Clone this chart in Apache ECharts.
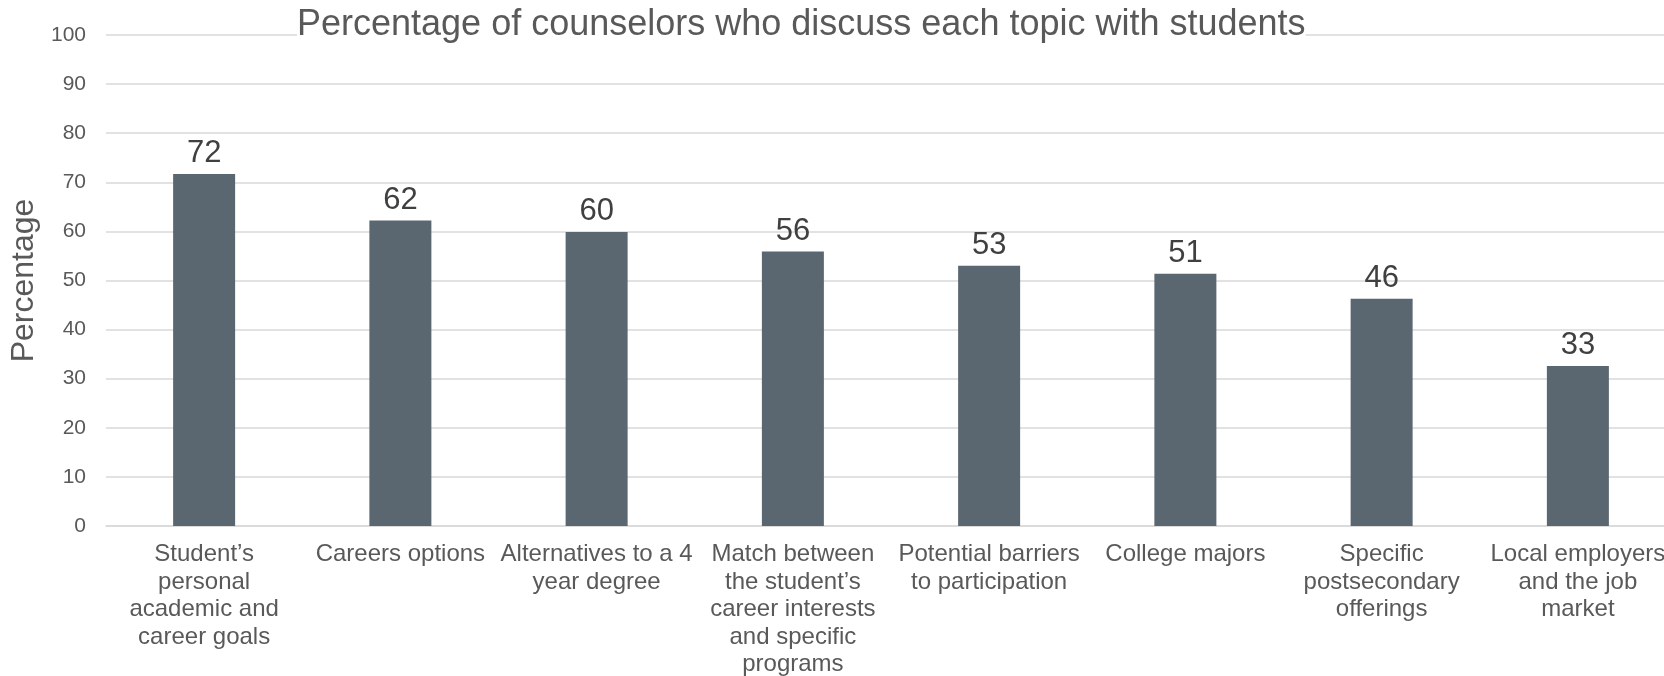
<!DOCTYPE html>
<html>
<head>
<meta charset="utf-8">
<script src="https://cdn.jsdelivr.net/npm/echarts@6/dist/echarts.min.js"></script>
<style>
  html, body { margin: 0; padding: 0; background: #fff; }
  #main { width: 1664px; height: 676px; }
</style>
</head>
<body>
<div id="main"></div>
<script>
// chart data
var categories = [
  'Student\u2019s\npersonal\nacademic and\ncareer goals',
  'Careers options',
  'Alternatives to a 4\nyear degree',
  'Match between\nthe student\u2019s\ncareer interests\nand specific\nprograms',
  'Potential barriers\nto participation',
  'College majors',
  'Specific\npostsecondary\nofferings',
  'Local employers\nand the job\nmarket'
];
var percentages = [71.7, 62.2, 59.9, 55.9, 53, 51.4, 46.3, 32.6];
var yTicks = [0, 10, 20, 30, 40, 50, 60, 70, 80, 90, 100];

var chart = echarts.init(document.getElementById('main'));
var font = 'Liberation Sans, Arial, sans-serif';

var option = {
  animation: false,
  title: {
    text: 'Percentage of counselors who discuss each topic with students',
    left: 297,
    top: 7,
    padding: 0,
    backgroundColor: '#fff',
    textStyle: { fontFamily: font, fontSize: 36, fontWeight: 'normal', color: '#595959' }
  },
  grid: { left: 106, right: -12, top: 35, bottom: 150, containLabel: false, outerBoundsMode: 'none' },
  xAxis: {
    type: 'category',
    data: categories,
    axisLine: { lineStyle: { color: '#d9d9d9', width: 1.5 } },
    axisTick: { show: false },
    axisLabel: {
      interval: 0,
      margin: 15,
      fontFamily: font,
      fontSize: 24,
      lineHeight: 27.5,
      color: '#595959'
    }
  },
  yAxis: {
    type: 'value',
    min: yTicks[0],
    max: yTicks[yTicks.length - 1],
    interval: 10,
    name: 'Percentage',
    nameLocation: 'middle',
    nameRotate: 90,
    nameGap: 51,
    nameTextStyle: { fontFamily: font, fontSize: 32, color: '#595959' },
    axisLine: { show: false },
    axisTick: { show: false },
    axisLabel: { margin: 20, fontFamily: font, fontSize: 21, color: '#595959' },
    splitLine: { lineStyle: { color: '#d9d9d9', width: 1.5 } }
  },
  series: [{
    type: 'bar',
    data: percentages,
    barWidth: 62,
    itemStyle: { color: '#5a6670' },
    label: {
      show: true,
      position: 'top',
      fontFamily: font,
      fontSize: 31,
      color: '#404040',
      formatter: function (p) { return Math.round(p.value); }
    }
  }]
};

chart.setOption(option);
</script>
</body>
</html>
